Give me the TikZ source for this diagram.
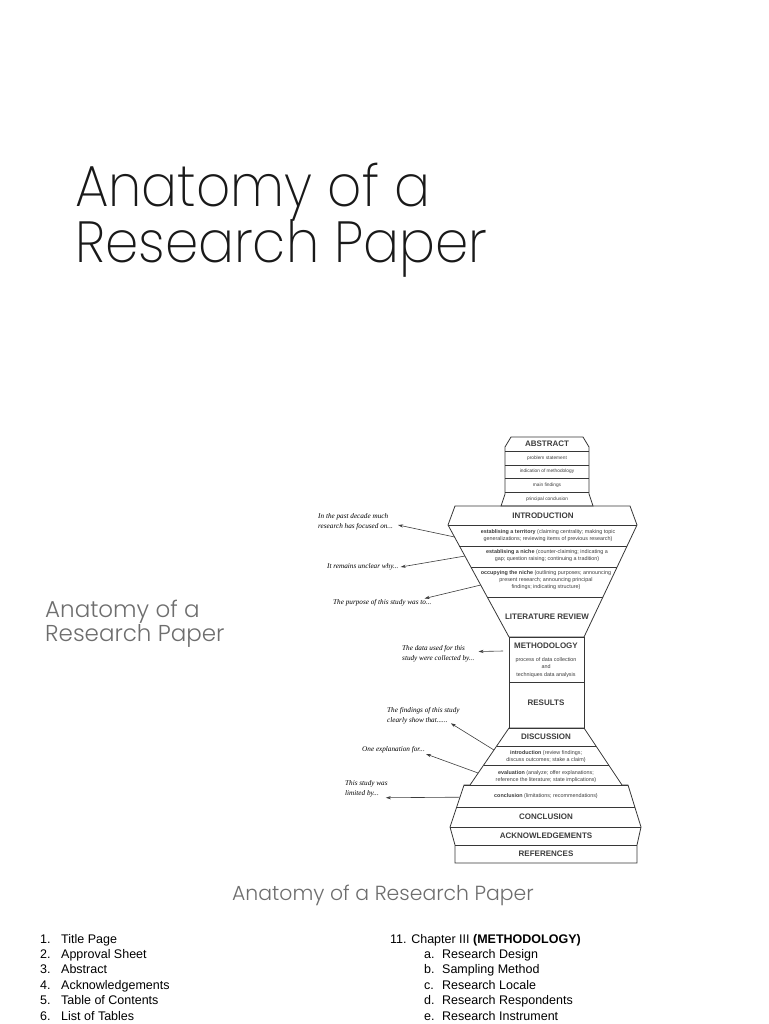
\documentclass[tikz,border=0pt]{standalone}
\usepackage{fontspec}
\setmainfont{Liberation Sans}
\newfontfamily\bigtitlefont{Poppins ExtraLight}[FakeStretch=0.92]
\newfontfamily\titlefont{Poppins Light}
\newfontfamily\notefont{Liberation Serif}
\usetikzlibrary{calc,arrows.meta}

\definecolor{outline}{RGB}{55,55,55}
\definecolor{softgray}{RGB}{110,110,110}
\definecolor{inkgray}{RGB}{60,60,60}

\tikzset{
  bigtitle/.style={anchor=base west, inner sep=0pt, font=\bigtitlefont\fontsize{58}{60}\selectfont, text=black!90},
  smalltitle/.style={anchor=base west, inner sep=0pt, font=\titlefont\fontsize{23}{25}\selectfont, text=softgray},
  partname/.style={font=\fontsize{8}{9}\selectfont\bfseries, text=inkgray, inner sep=0pt},
  parttext/.style={font=\fontsize{5.4}{7.4}\selectfont, text=inkgray, align=center, inner sep=0pt},
  rowtext/.style={font=\fontsize{4.8}{6}\selectfont, text=inkgray, inner sep=0pt},
  notetext/.style={font=\notefont\itshape\fontsize{7.2}{10.5}\selectfont, align=left, anchor=west, inner sep=1pt},
  notearrow/.style={-{Stealth[length=5pt,width=3.2pt]}, line width=0.6pt, draw=inkgray},
  listitem/.style={font=\fontsize{12.5}{14}\selectfont, anchor=base west, inner sep=0pt}
}

\begin{document}
\begin{tikzpicture}[x=1pt,y=-1pt]
\useasboundingbox (0,0) rectangle (768,1024);

% titles
\node[bigtitle] (title1) at (75,207) {Anatomy of a};
\node[bigtitle] (title2) at (75,262) {Research Paper};
\node[smalltitle] (sub1) at (45,617) {Anatomy of a};
\node[smalltitle] (sub2) at (45,641) {Research Paper};
\node[anchor=base, inner sep=0pt, font=\titlefont\fontsize{20.4}{22}\selectfont, text=softgray] (caption) at (383,900) {Anatomy of a Research Paper};

% the hourglass
\coordinate (il) at (448,525);
\coordinate (ir) at (637,525);
\coordinate (ml) at (509,637);
\coordinate (mr) at (584,637);
\coordinate (dl1) at (509,728);
\coordinate (dr1) at (584,728);
\coordinate (dl2) at (470,785);
\coordinate (dr2) at (622,785);
\coordinate (cl1) at (464,785);
\coordinate (cr1) at (628,785);
\coordinate (cl2) at (450,827);
\coordinate (cr2) at (641,827);

\begin{scope}[draw=outline, line width=0.8pt]
\draw (511,437) -- (583,437) -- (589,447) -- (589,494) -- (593,506) -- (501,506) -- (505,494) -- (505,447) -- cycle;
\draw (505,451) -- (589,451);
\draw (505,465) -- (589,465);
\draw (505,478) -- (589,478);
\draw (505,492) -- (589,492);

\draw (455,506) -- (630,506) -- (ir) -- (mr) -- (ml) -- (il) -- cycle;
\draw (il) -- (ir);
\draw ($(il)!0.1875!(ml)$) -- ($(ir)!0.1875!(mr)$);
\draw ($(il)!0.375!(ml)$) -- ($(ir)!0.375!(mr)$);
\draw ($(il)!0.643!(ml)$) -- ($(ir)!0.643!(mr)$);

\draw (ml) rectangle (584,728);
\draw (509,682) -- (584,682);

\draw (dl1) -- (dr1) -- (dr2) -- (cr1) -- (cr2) -- (637,845) -- (637,863) -- (455,863) -- (455,845) -- (cl2) -- (cl1) -- (dl2) -- cycle;
\draw ($(dl1)!0.316!(dl2)$) -- ($(dr1)!0.316!(dr2)$);
\draw ($(dl1)!0.649!(dl2)$) -- ($(dr1)!0.649!(dr2)$);
\draw (cl1) -- (cr1);
\draw ($(cl1)!0.524!(cl2)$) -- ($(cr1)!0.524!(cr2)$);
\draw (cl2) -- (cr2);
\draw (455,845) -- (637,845);
\end{scope}

% part names and their rows
\node[partname] (abstract) at (547,443.5) {ABSTRACT};
\node[rowtext] (problem) at (547,458) {problem statement};
\node[rowtext] (method) at (547,471.5) {indication of methodology};
\node[rowtext] (findings) at (547,485) {main findings};
\node[rowtext] (principal) at (547,499) {principal conclusion};

\node[partname] (intro) at (543,516) {INTRODUCTION};
\node[parttext] (territory) at (548,535.5) {\textbf{establising a territory} (claiming centrality; making topic\\generalizations; reviewing items of previous research)};
\node[parttext] (niche) at (547,555.5) {\textbf{establising a niche} (counter-claiming; indicating a\\gap; question raising; continuing a tradition)};
\node[parttext] (occupy) at (546,580) {\textbf{occupying the niche} (outlining purposes; announcing\\present research; announcing principal\\findings; indicating structure)};
\node[partname] (litreview) at (547,616.5) {LITERATURE REVIEW};

\node[partname] (methodology) at (546,645.5) {METHODOLOGY};
\node[parttext] (process) at (546,667.5) {process of data collection\\and\\techniques data analysis};
\node[partname] (results) at (546,702.5) {RESULTS};

\node[partname] (discussion) at (546,737) {DISCUSSION};
\node[parttext] (review) at (546,756.5) {\textbf{introduction} (review findings;\\discuss outcomes; stake a claim)};
\node[parttext] (evaluation) at (546,776.5) {\textbf{evaluation} (analyze; offer explanations;\\reference the literature; state implications)};
\node[parttext] (limits) at (546,796) {\textbf{conclusion} (limitations; recommendations)};
\node[partname] (conclusion) at (546,817) {CONCLUSION};
\node[partname] (acknowledge) at (546,836) {ACKNOWLEDGEMENTS};
\node[partname] (references) at (546,854) {REFERENCES};

% notes on the left
\node[notetext] (past) at (317,522) {In the past decade much\\research has focused on...};
\node[notetext] (unclear) at (326,567) {It remains unclear why...};
\node[notetext] (purpose) at (332,603) {The purpose of this study was to...};
\node[notetext] (data) at (401,653.5) {The data used for this\\study were collected by...};
\node[notetext] (show) at (386,715.5) {The findings of this study\\clearly show that......};
\node[notetext] (explain) at (361,750) {One explanation for...};
\node[notetext] (limited) at (344,789) {This study was\\limited by...};

\coordinate (datatail) at (503,651);
\draw[notearrow] ($(il)!0.107!(ml)$) -- ([xshift=4pt,yshift=-3pt]past.east);
\draw[notearrow] ($(il)!0.277!(ml)$) -- ([xshift=1pt]unclear.east);
\draw[notearrow] ($(il)!0.536!(ml)$) -- ([xshift=-8pt]purpose.north east);
\draw[notearrow] (datatail) -- ([xshift=3pt,yshift=2pt]data.east);
\draw[notearrow] ($(dl1)!0.386!(dl2)$) -- ([xshift=-10pt,yshift=2pt]show.south east);
\draw[notearrow] ($(dl1)!0.79!(dl2)$) -- ([yshift=-4pt]explain.east);
\draw[notearrow] ($(cl1)!0.29!(cl2)$) -- ([xshift=-3pt,yshift=1pt]limited.south east);

% the list
\foreach \txt [count=\i] in {Title Page, Approval Sheet, Abstract, Acknowledgements, Table of Contents, List of Tables} {
  \node[listitem] (num\i) at (40,{943+15.4*(\i-1)}) {\i.};
  \node[listitem] (item\i) at (61,{943+15.4*(\i-1)}) {\txt};
}
\node[listitem] (chapter) at (390,943) {11. Chapter III \textbf{(METHODOLOGY)}};
\foreach \l/\txt [count=\i] in {a/Research Design, b/Sampling Method, c/Research Locale, d/Research Respondents, e/Research Instrument} {
  \node[listitem] (sub\l) at (424,{943+15.4*\i}) {\l.};
  \node[listitem] (subitem\l) at (442,{943+15.4*\i}) {\txt};
}
\end{tikzpicture}
\end{document}
